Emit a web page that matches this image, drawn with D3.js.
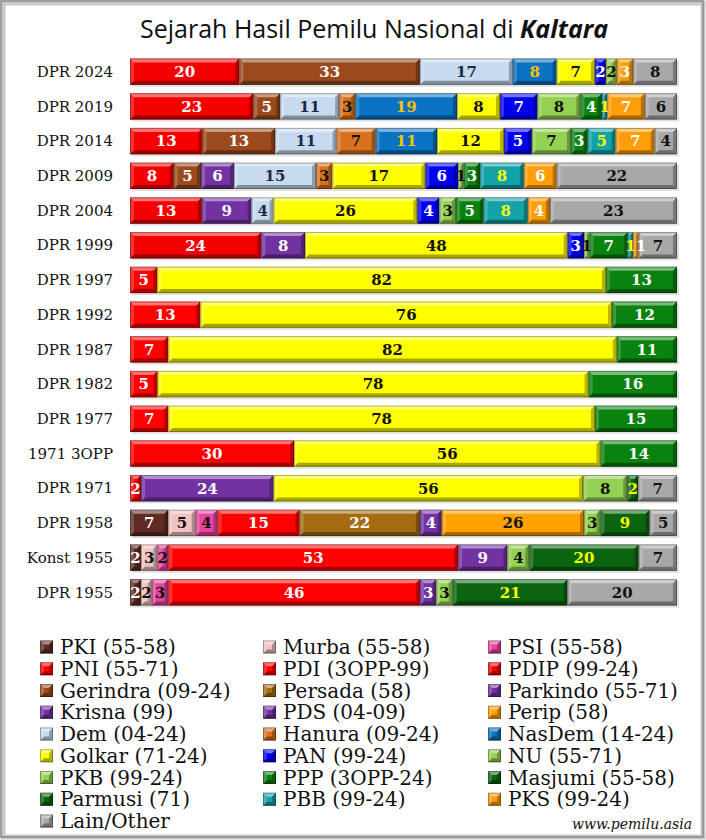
<!DOCTYPE html>
<html>
<head>
<meta charset="utf-8">
<script src="https://cdn.jsdelivr.net/npm/d3@7"></script>
<style>
  body { margin: 0; background: #fff; }
  svg { display: block; }
</style>
</head>
<body>
<div id="chart"></div>
<script>
// parties, legend text and colours (legend order)
var parties = ["PKI", "Murba", "PSI", "PNI", "PDI", "PDIP", "Gerindra", "Persada", "Parkindo",
    "Krisna", "PDS", "Perip", "Dem", "Hanura", "NasDem", "Golkar", "PAN", "NU",
    "PKB", "PPP", "Masjumi", "Parmusi", "PBB", "PKS", "Lain"];
var legendLabels = ["PKI (55-58)", "Murba (55-58)", "PSI (55-58)", "PNI (55-71)", "PDI (3OPP-99)",
    "PDIP (99-24)", "Gerindra (09-24)", "Persada (58)", "Parkindo (55-71)", "Krisna (99)",
    "PDS (04-09)", "Perip (58)", "Dem (04-24)", "Hanura (09-24)", "NasDem (14-24)",
    "Golkar (71-24)", "PAN (99-24)", "NU (55-71)", "PKB (99-24)", "PPP (3OPP-24)",
    "Masjumi (55-58)", "Parmusi (71)", "PBB (99-24)", "PKS (99-24)", "Lain/Other"];
var partyColors = ["#5e2a22", "#f0c2c2", "#e6449e", "#ff0000", "#ff0000", "#f50000", "#9a4a1c",
    "#a66c12", "#7232a2", "#7232a2", "#7232a2", "#ffa200", "#c8daf0", "#d8721e", "#0a72c2",
    "#ffff00", "#0000f0", "#94d052", "#94d052", "#0a820e", "#0a6410", "#0a6410", "#12a2a8",
    "#ff9e0a", "#a8a8a8"];
var labelColors = ["#fff", "#111", "#111", "#fff", "#fff", "#fff", "#fff", "#fff", "#fff",
    "#fff", "#fff", "#111", "#1c2a48", "#111", "#ffc000", "#111", "#fff", "#111",
    "#111", "#fff", "#ffff00", "#ffff00", "#ffff00", "#fff", "#111"];

// rows (top to bottom)
var rowNames = ["DPR 2024", "DPR 2019", "DPR 2014", "DPR 2009", "DPR 2004", "DPR 1999",
    "DPR 1997", "DPR 1992", "DPR 1987", "DPR 1982", "DPR 1977", "1971 3OPP", "DPR 1971",
    "DPR 1958", "Konst 1955", "DPR 1955"];

var dpr2024 = [["PDIP", 20], ["Gerindra", 33], ["Dem", 17], ["NasDem", 8], ["Golkar", 7],
    ["PAN", 2], ["PKB", 2], ["PKS", 3], ["Lain", 8]];
var dpr2019 = [["PDIP", 23], ["Gerindra", 5], ["Dem", 11], ["Hanura", 3], ["NasDem", 19],
    ["Golkar", 8], ["PAN", 7], ["PKB", 8], ["PPP", 4], ["PBB", 1], ["PKS", 7], ["Lain", 6]];
var dpr2014 = [["PDIP", 13], ["Gerindra", 13], ["Dem", 11], ["Hanura", 7], ["NasDem", 11],
    ["Golkar", 12], ["PAN", 5], ["PKB", 7], ["PPP", 3], ["PBB", 5], ["PKS", 7], ["Lain", 4]];
var dpr2009 = [["PDIP", 8], ["Gerindra", 5], ["PDS", 6], ["Dem", 15], ["Hanura", 3],
    ["Golkar", 17], ["PAN", 6], ["PKB", 1], ["PPP", 3], ["PBB", 8], ["PKS", 6], ["Lain", 22]];
var dpr2004 = [["PDIP", 13], ["PDS", 9], ["Dem", 4], ["Golkar", 26], ["PAN", 4], ["PKB", 3],
    ["PPP", 5], ["PBB", 8], ["PKS", 4], ["Lain", 23]];
var dpr1999 = [["PDIP", 24], ["Krisna", 8], ["Golkar", 48], ["PAN", 3], ["PKB", 1], ["PPP", 7],
    ["PBB", 1], ["PKS", 1], ["Lain", 7]];
var dpr1997 = [["PDI", 5], ["Golkar", 82], ["PPP", 13]];
var dpr1992 = [["PDI", 13], ["Golkar", 76], ["PPP", 12]];
var dpr1987 = [["PDI", 7], ["Golkar", 82], ["PPP", 11]];
var dpr1982 = [["PDI", 5], ["Golkar", 78], ["PPP", 16]];
var dpr1977 = [["PDI", 7], ["Golkar", 78], ["PPP", 15]];
var opp1971 = [["PDI", 30], ["Golkar", 56], ["PPP", 14]];
var dpr1971 = [["PNI", 2], ["Parkindo", 24], ["Golkar", 56], ["NU", 8], ["Parmusi", 2], ["Lain", 7]];
var dpr1958 = [["PKI", 7], ["Murba", 5], ["PSI", 4], ["PNI", 15], ["Persada", 22], ["Parkindo", 4],
    ["Perip", 26], ["NU", 3], ["Masjumi", 9], ["Lain", 5]];
var konst1955 = [["PKI", 2], ["Murba", 3], ["PSI", 2], ["PNI", 53], ["Parkindo", 9], ["NU", 4],
    ["Masjumi", 20], ["Lain", 7]];
var dpr1955 = [["PKI", 2], ["Murba", 2], ["PSI", 3], ["PNI", 46], ["Parkindo", 3], ["NU", 3],
    ["Masjumi", 21], ["Lain", 20]];

var rowData = [dpr2024, dpr2019, dpr2014, dpr2009, dpr2004, dpr1999, dpr1997, dpr1992, dpr1987,
    dpr1982, dpr1977, opp1971, dpr1971, dpr1958, konst1955, dpr1955];

var W = 706, H = 840;
var barLeft = 130, barRight = 677;

var color = d3.scaleOrdinal().domain(parties).range(partyColors);
var textColor = d3.scaleOrdinal().domain(parties).range(labelColors);

var svg = d3.select("#chart").append("svg")
    .attr("width", W)
    .attr("height", H);

// frame
svg.append("rect").attr("x", 0).attr("y", 0).attr("width", W).attr("height", H).attr("fill", "#fff");
svg.append("rect").attr("x", 3).attr("y", 3).attr("width", W - 6).attr("height", H - 6)
    .attr("fill", "none").attr("stroke", "#c8c8c8").attr("stroke-width", 5);
svg.append("rect").attr("x", 1).attr("y", 1).attr("width", W - 4).attr("height", H - 4)
    .attr("fill", "none").attr("stroke", "#8a8a8a").attr("stroke-width", 1.5);

// title
var title = svg.append("text")
    .attr("x", 140)
    .attr("y", 38)
    .style("font-family", "'Open Sans', sans-serif")
    .style("font-size", "25px")
    .attr("fill", "#111");
title.append("tspan").text("Sejarah Hasil Pemilu Nasional di ");
title.append("tspan").text("Kaltara").style("font-weight", "bold").style("font-style", "italic");

// rows
var y = d3.scaleBand().domain(rowNames).range([55, 609]).paddingInner(0.24).paddingOuter(0.1);

svg.append("g").selectAll("text")
    .data(rowNames)
    .enter()
    .append("text")
    .attr("x", 113)
    .attr("y", d => y(d) + y.bandwidth() / 2)
    .attr("dy", "0.35em")
    .attr("text-anchor", "end")
    .style("font-family", "'DejaVu Serif', serif")
    .style("font-size", "15px")
    .attr("fill", "#111")
    .text(d => d);

// draw one beveled block
function bevel(g, x0, x1, y0, y1, fill) {
    var b = Math.min(4, (x1 - x0) / 2, (y1 - y0) / 2);
    g.append("rect").attr("x", x0).attr("y", y0).attr("width", Math.max(0, x1 - x0)).attr("height", y1 - y0)
        .attr("fill", fill);
    var faces = [
        [[x0, y0], [x1, y0], [x1 - b, y0 + b], [x0 + b, y0 + b], "#fff", 0.45],
        [[x0, y0], [x0 + b, y0 + b], [x0 + b, y1 - b], [x0, y1], "#fff", 0.2],
        [[x0, y1], [x0 + b, y1 - b], [x1 - b, y1 - b], [x1, y1], "#000", 0.35],
        [[x1, y0], [x1, y1], [x1 - b, y1 - b], [x1 - b, y0 + b], "#000", 0.28]
    ];
    faces.forEach(function(f) {
        g.append("polygon")
            .attr("points", f.slice(0, 4).map(p => p.join(",")).join(" "))
            .attr("fill", f[4])
            .attr("opacity", f[5]);
    });
    g.append("rect").attr("x", x0 + 0.5).attr("y", y0 + 0.5)
        .attr("width", Math.max(0, x1 - x0 - 1)).attr("height", y1 - y0 - 1)
        .attr("fill", "none").attr("stroke", "#000").attr("stroke-opacity", 0.3);
}

var bars = svg.append("g");

rowData.forEach(function(row, i) {
    var total = d3.sum(row, d => d[1]);
    var x = d3.scaleLinear().domain([0, total]).range([barLeft, barRight]);
    var y0 = y(rowNames[i]), y1 = y0 + y.bandwidth();
    var g = bars.append("g");

    // shadow
    g.append("rect").attr("x", barLeft + 2).attr("y", y0 + 2)
        .attr("width", barRight - barLeft).attr("height", y.bandwidth())
        .attr("fill", "#000").attr("opacity", 0.12);

    var acc = 0;
    var segs = row.map(function(d) {
        var s = { party: d[0], value: d[1], start: acc };
        acc += d[1];
        return s;
    });
    segs.forEach(function(s) {
        bevel(g, x(s.start), x(s.start + s.value), y0, y1, color(s.party));
    });
    var labels = g.selectAll("text.val")
        .data(segs)
        .enter()
        .append("text")
        .attr("class", "val")
        .attr("x", s => (x(s.start) + x(s.start + s.value)) / 2)
        .attr("y", (y0 + y1) / 2)
        .attr("dy", "0.36em")
        .attr("text-anchor", "middle")
        .style("font-family", "'DejaVu Serif', serif")
        .style("font-weight", "bold")
        .style("font-size", "15px")
        .attr("fill", s => textColor(s.party))
        .text(s => s.value);

    // nudge tiny-segment labels so they sit side by side
    var prevRight = -Infinity;
    labels.each(function() {
        var el = d3.select(this);
        var w = this.getComputedTextLength();
        var cx = +el.attr("x");
        if (cx - w / 2 < prevRight) {
            cx = prevRight + w / 2;
            el.attr("x", cx);
        }
        prevRight = cx + w / 2;
    });
});

// legend
var legend = svg.append("g");
var colX = [40, 263, 488];
var legendRows = d3.scaleLinear().domain([0, 8]).range([647, 821]);

legendLabels.forEach(function(lbl, i) {
    var cx = colX[i % 3], cy = legendRows(Math.floor(i / 3));
    bevel(legend, cx, cx + 13, cy - 6.5, cy + 6.5, color(parties[i]));
    legend.append("text")
        .attr("x", cx + 20)
        .attr("y", cy)
        .attr("dy", "0.35em")
        .style("font-family", "'DejaVu Serif', serif")
        .style("font-size", "20px")
        .attr("fill", "#111")
        .text(lbl);
});

svg.append("text")
    .attr("x", 692)
    .attr("y", 829)
    .attr("text-anchor", "end")
    .style("font-family", "'DejaVu Serif', serif")
    .style("font-style", "italic")
    .style("font-size", "14px")
    .attr("fill", "#111")
    .text("www.pemilu.asia");
</script>
</body>
</html>
